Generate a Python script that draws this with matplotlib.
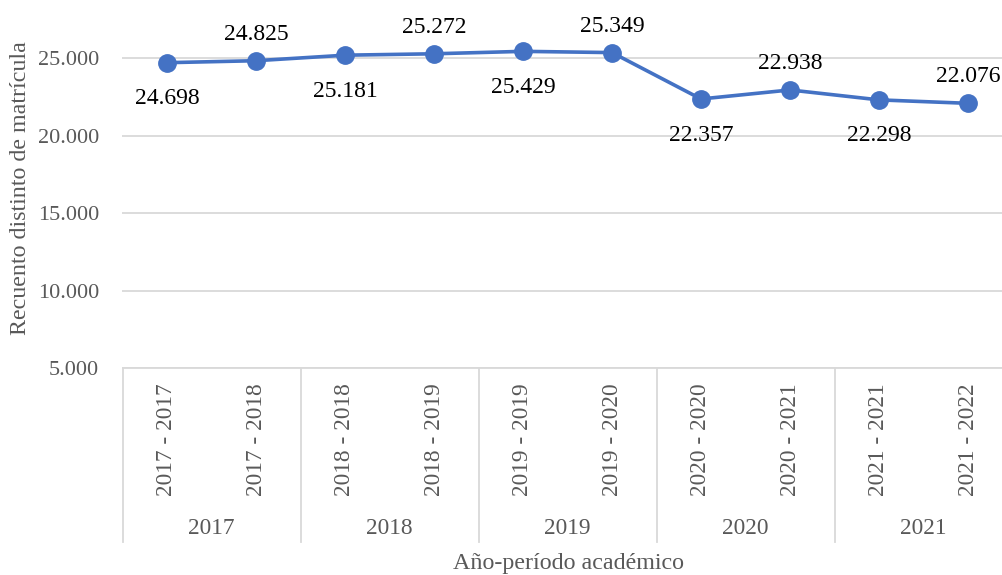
import matplotlib.pyplot as plt
import matplotlib.transforms as mtransforms

# data
periods = ["2017 - 2017", "2017 - 2018", "2018 - 2018", "2018 - 2019", "2019 - 2019",
           "2019 - 2020", "2020 - 2020", "2020 - 2021", "2021 - 2021", "2021 - 2022"]
years = ["2017", "2018", "2019", "2020", "2021"]
enrolment = [24698, 24825, 25181, 25272, 25429, 25349, 22357, 22938, 22298, 22076]
value_labels = ["24.698", "24.825", "25.181", "25.272", "25.429",
                "25.349", "22.357", "22.938", "22.298", "22.076"]
y_ticks = [5000, 10000, 15000, 20000, 25000]

plt.rcParams['font.family'] = ['Liberation Serif', 'DejaVu Serif']

W, H = 1003, 575
fig = plt.figure(figsize=(W / 100, H / 100), dpi=100)

# plot area in pixels (extends a bit past the right edge like the original crop)
left_px, right_px, top_px, bottom_px = 122.5, 1012.5, 8, 368
ax = fig.add_axes([left_px / W, 1 - bottom_px / H,
                   (right_px - left_px) / W, (bottom_px - top_px) / H])
ax_h = bottom_px - top_px

px_per_5000 = 77.5
ax.set_ylim(5000, 5000 + (bottom_px - top_px) / px_per_5000 * 5000)
ax.set_xlim(-0.5, len(periods) - 0.5)

gray = "#595959"
ax.set_yticks(y_ticks)
ax.set_yticklabels([f"{v // 1000}.000" for v in y_ticks], color=gray, fontsize=16)
ax.tick_params(axis='y', length=0, pad=17)
ax.grid(axis='y', color="#D9D9D9", linewidth=1.3)
ax.set_axisbelow(True)
for s in ['left', 'right', 'top']:
    ax.spines[s].set_visible(False)
ax.spines['bottom'].set_color("#D9D9D9")
ax.spines['bottom'].set_linewidth(1.3)

xs = list(range(len(periods)))
ax.plot(xs, enrolment, color="#4472C4", linewidth=2.6, marker='o',
        markersize=12.5, zorder=3, clip_on=False)

for i, (v, lab) in enumerate(zip(enrolment, value_labels)):
    dy = -26 if i % 2 == 0 else 19
    ax.annotate(lab, (i, v), xytext=(0, dy), textcoords='offset points',
                ha='center', va='center', fontsize=17, color='black')

# category axis: period labels, year groups, separators
ax.set_xticks([])
trans = mtransforms.blended_transform_factory(ax.transData, ax.transAxes)
for i, p in enumerate(periods):
    ax.text(i, -15 / ax_h, p, transform=trans, rotation=90, ha='center', va='top',
            fontsize=16.8, color=gray)
for j, yr in enumerate(years):
    ax.text(2 * j + 0.5, -160 / ax_h, yr, transform=trans, ha='center', va='center',
            fontsize=16.8, color=gray)
for j in range(len(years) + 1):
    xsep = 2 * j - 0.5
    ax.plot([xsep, xsep], [0, -174 / ax_h], transform=trans, color="#D9D9D9",
            linewidth=1.3, clip_on=False)

fig.text(569 / W, 1 - 563 / H, "Año-período académico", ha='center', va='center',
         fontsize=17.3, color=gray)
fig.text(21 / W, 1 - 188 / H, "Recuento distinto de matrícula", rotation=90,
         ha='center', va='center', fontsize=17.3, color=gray)

fig.savefig("out.png", dpi=100)
